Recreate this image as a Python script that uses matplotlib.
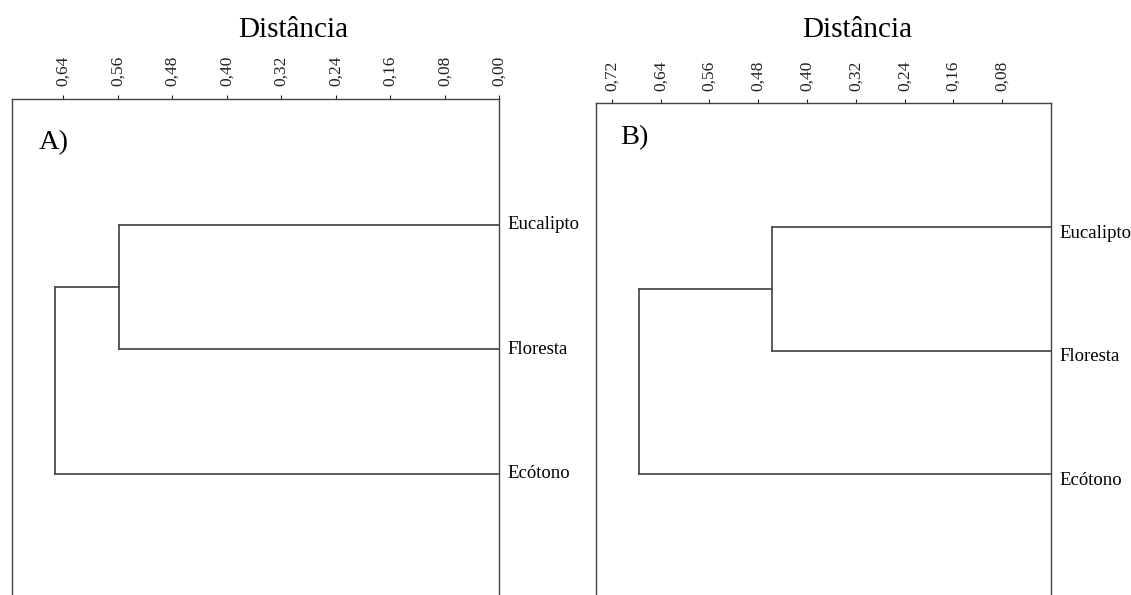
import numpy as np
import matplotlib
matplotlib.use("Agg")
import matplotlib.pyplot as plt
from matplotlib import transforms

plt.rcParams["font.family"] = ["Liberation Serif", "DejaVu Serif"]

# dados dos dendrogramas
folhas = ["Eucalipto", "Floresta", "Ecótono"]
ticks_a = [0.64, 0.56, 0.48, 0.40, 0.32, 0.24, 0.16, 0.08, 0.00]
ticks_b = [0.72, 0.64, 0.56, 0.48, 0.40, 0.32, 0.24, 0.16, 0.08]
dist_a = [0.558, 0.652]   # Eucalipto+Floresta, raiz
dist_b = [0.458, 0.676]
xlim_a = (0.716, 0.0)
xlim_b = (0.746, 0.0)

W, H = 1131, 595
fig = plt.figure(figsize=(W / 100, H / 100), dpi=100)

cor = "#4d4d4d"


def dendro(ax, dist, ticks, xlim, ylim, rotulo, desloc):
    y = np.arange(1, len(folhas) + 1)
    d1, d2 = dist
    ymid = (y[0] + y[1]) / 2
    # Eucalipto e Floresta
    ax.plot([0, d1], [y[0], y[0]], color=cor, lw=1.3)
    ax.plot([0, d1], [y[1], y[1]], color=cor, lw=1.3)
    ax.plot([d1, d1], [y[0], y[1]], color=cor, lw=1.3)
    # raiz com Ecótono
    ax.plot([d1, d2], [ymid, ymid], color=cor, lw=1.3)
    ax.plot([0, d2], [y[2], y[2]], color=cor, lw=1.3)
    ax.plot([d2, d2], [ymid, y[2]], color=cor, lw=1.3)

    ax.set_xlim(*xlim)
    ax.set_ylim(*ylim)
    ax.xaxis.tick_top()
    ax.set_xticks(ticks)
    ax.set_xticklabels([f"{t:.2f}".replace(".", ",") for t in ticks],
                       rotation=90, fontsize=12.5)
    ax.tick_params(axis="x", direction="out", length=3, width=0.8,
                   pad=6, colors="#222222")
    ax.set_yticks([])
    ax.spines["bottom"].set_visible(False)
    for s in ["top", "left", "right"]:
        ax.spines[s].set_color("#444444")
        ax.spines[s].set_linewidth(1.0)

    tr = transforms.offset_copy(ax.get_yaxis_transform(), fig=fig,
                                x=8, y=-desloc, units="dots")
    for yi, nome in zip(y, folhas):
        ax.text(1.0, yi, nome, transform=tr, ha="left", va="center",
                fontsize=13.5, clip_on=False)

    ax.text(rotulo[1], rotulo[2], rotulo[0], fontsize=20.5,
            transform=fig.transFigure, ha="left", va="baseline")


ax_a = fig.add_axes([11.7 / W, 0, (499.3 - 11.7) / W, (H - 99) / H])
dendro(ax_a, dist_a, ticks_a, xlim_a, (3.972, -0.012),
       ("A)", 38.5 / W, 1 - 149 / H), 0)
fig.text(293 / W, 1 - 37 / H, "Distância", fontsize=21,
         ha="center", va="baseline")

ax_b = fig.add_axes([596 / W, 0, (1051 - 596) / W, (H - 103.3) / H])
dendro(ax_b, dist_b, ticks_b, xlim_b, (3.98, -0.005),
       ("B)", 620 / W, 1 - 144 / H), 6)
fig.text(857.5 / W, 1 - 37 / H, "Distância", fontsize=21,
         ha="center", va="baseline")

fig.savefig("out.png", dpi=100, facecolor="white")
